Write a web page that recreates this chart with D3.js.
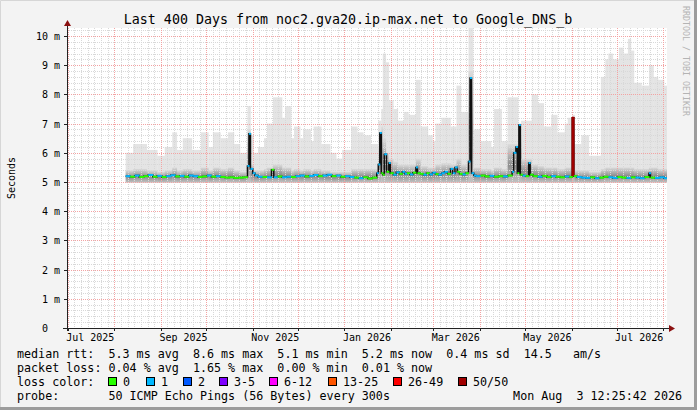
<!DOCTYPE html>
<html><head><meta charset="utf-8">
<script src="https://cdn.jsdelivr.net/npm/d3@7/dist/d3.min.js"></script>
<style>
body{margin:0;background:#f3f3f3}
svg{display:block}
text{font-family:"DejaVu Sans Mono",monospace;fill:#000;white-space:pre}
</style></head><body>
<svg id="chart" width="697" height="410"></svg>
<script>
// axis labels
const yTicks = [0,1,2,3,4,5,6,7,8,9,10];
const xTickLabels = ["Jul 2025","Sep 2025","Nov 2025","Jan 2026","Mar 2026","May 2026","Jul 2026"];

// smoke: start day (days since 30 Jun 2025 12:00), top of the smoke and top of the dark part (ms)
const smokeDay  = [39,44,53,60,65,70,73,77,83,89,94,97,102,107,111,115,120,122,124,127,131,133,137,143,145,149,151,155,157,162,164,169,175,179,183,189,193,197,202,207,209,210,212,214,217,220,224,227,232,235,240,243,245,249,255,259,262,267,270,275,282,284,289,293,300,302,309,313,317,322,326,331,333,336,337.5,342,347,355,358,360,363,367,370,373,375,377,382,387,390,393,397];
const smokeMax  = [6.0,6.3,6.1,5.9,6.2,6.7,6.1,6.5,6.1,6.7,6.2,6.7,6.5,6.7,6.3,6.0,7.6,6.6,6.0,6.2,6.5,7.0,7.9,7.2,7.6,6.5,6.9,6.5,6.8,6.4,6.9,6.3,6.0,5.8,6.1,6.9,6.7,6.6,6.3,7.1,7.5,9.4,9.1,7.8,7.5,7.1,7.4,7.3,8.5,6.9,6.6,6.4,7.0,7.2,6.9,8.3,7.4,10.3,6.8,6.4,6.2,7.5,6.4,7.9,7.0,7.1,8.0,7.7,6.9,7.3,6.7,7.0,7.2,7.3,6.3,6.6,5.9,8.6,9.2,9.4,9.2,9.6,9.4,9.9,9.5,8.4,8.3,9.0,8.6,8.5,8.3];
const smokeDark = [5.4,5.45,5.4,5.35,5.4,5.5,5.4,5.45,5.4,5.5,5.4,5.5,5.45,5.5,5.4,5.35,6.8,5.6,5.4,5.4,5.45,5.5,5.6,5.5,5.5,5.4,5.45,5.4,5.45,5.4,5.45,5.4,5.35,5.35,5.35,5.45,5.45,5.45,5.45,6.2,6.9,6.5,6.0,5.8,5.7,5.6,5.6,5.6,5.8,5.55,5.5,5.5,5.6,5.65,5.6,5.8,5.6,8.8,5.5,5.45,5.4,5.5,5.45,6.3,6.6,5.8,5.6,5.55,5.5,5.5,5.45,5.5,5.5,7.0,5.4,5.4,5.35,5.45,5.5,5.5,5.5,5.5,5.5,5.5,5.5,5.45,5.45,5.5,5.5,5.45,5.45];
const smokeLow = 4.98;
const dataEnd = 399;

// median rtt steps and loss bucket
const medDay  = [39,42,45,48,51,54,57,60,63,66,69,72,75,78,81,84,87,90,93,96,99,102,105,108,111,114,117,120,121,122,123.5,125,127,130,133,136,137.5,140,143,146,149,152,155,158,161,164,167,170,173,176,179,182,185,188,191,194,197,200,203,206,207,208,209,210,211,212.5,214,215,217,219,221,223,224.5,226,228,230,232,233,235,237,239,241,243,245,247,249,251,253,255,256.5,258,259.5,261,263,265,267,268,269,270.5,272,275,278,281,284,287,290,293,296,297,298.5,299.5,300.5,301.5,303,305,307,308,310,313,316,319,322,325,328,331,334,336,337,339,342,345,348,351,354,357,360,363,366,369,372,375,378,381,384,387,388,391,394,397];
const medVal  = [5.20,5.18,5.22,5.17,5.20,5.24,5.18,5.21,5.17,5.20,5.23,5.19,5.21,5.18,5.22,5.20,5.17,5.19,5.22,5.18,5.20,5.17,5.15,5.16,5.14,5.15,5.16,5.55,6.65,5.45,5.30,5.22,5.18,5.17,5.16,5.42,5.16,5.19,5.16,5.18,5.17,5.20,5.22,5.19,5.21,5.24,5.20,5.22,5.25,5.20,5.22,5.18,5.20,5.17,5.15,5.13,5.16,5.12,5.15,5.30,5.60,6.68,5.30,5.25,5.95,5.35,5.65,5.30,5.25,5.33,5.28,5.35,5.28,5.30,5.26,5.32,5.50,5.30,5.28,5.25,5.30,5.26,5.32,5.27,5.25,5.30,5.35,5.28,5.45,5.30,5.50,5.35,5.28,5.26,5.30,5.70,8.56,5.30,5.22,5.20,5.22,5.19,5.21,5.18,5.20,5.19,5.22,5.35,6.00,6.20,5.30,6.95,5.25,5.22,5.20,5.65,5.25,5.20,5.18,5.21,5.17,5.20,5.18,5.16,5.19,5.17,7.20,5.20,5.17,5.15,5.14,5.16,5.13,5.15,5.18,5.16,5.14,5.17,5.15,5.14,5.16,5.15,5.13,5.17,5.30,5.15,5.14,5.16,5.13];
const medLoss = [1,0,1,0,0,1,0,1,0,1,1,0,1,0,1,1,0,0,1,0,1,0,0,0,0,0,0,1,1,1,1,1,1,0,1,0,1,0,1,1,0,1,1,0,1,1,0,1,1,0,1,0,1,1,0,1,0,0,0,1,1,1,0,0,1,0,1,0,1,1,0,1,1,0,1,0,1,0,0,1,0,1,1,0,1,1,1,0,1,1,1,0,0,1,0,1,1,1,1,1,0,0,1,0,0,1,0,1,1,1,0,1,0,1,0,1,0,0,1,0,0,1,0,0,1,0,7,0,1,1,1,0,1,0,0,1,1,0,0,1,0,1,1,0,1,0,1,1,1];

// loss legend
const lossLabels = ["0","1","2","3-5","6-12","13-25","26-49","50/50"];
const lossColors = ["#26ff00","#00b8ff","#0059ff","#7e00ff","#ff00ff","#ff5500","#ff0000","#a10000"];

const legendRtt  = "median rtt:  5.3 ms avg  8.6 ms max  5.1 ms min  5.2 ms now  0.4 ms sd  14.5   am/s";
const legendLoss = "packet loss: 0.04 % avg  1.65 % max  0.00 % min  0.01 % now";
const legendProbe = "probe:       50 ICMP Echo Pings (56 Bytes) every 300s";
const stamp = "Mon Aug  3 12:25:42 2026";
const title = "Last 400 Days from noc2.gva20.ip-max.net to Google_DNS_b";

const W = 697, H = 410;
const pL = 67, pR = 667, pT = 28, pB = 328;

const svg = d3.select("#chart");

const t0 = new Date(2025, 5, 30, 12, 0, 0);
const t1 = new Date(2026, 7, 3, 12, 0, 0);
const dayToDate = d => new Date(t0.getTime() + d * 864e5);

const x = d3.scaleTime().domain([t0, t1]).range([pL, pR]);
const y = d3.scaleLinear().domain([0, 10.274]).range([pB, pT]);

// frame
svg.append("rect").attr("width", W).attr("height", H).attr("fill", "#f3f3f3");
svg.append("path").attr("d", `M0.5,${H} V0.5 H${W}`).attr("stroke", "#d6d6d6").attr("fill", "none");
svg.append("path").attr("d", `M0,${H-1.5} H${W-1.5} V0`).attr("stroke", "#9c9c9c").attr("stroke-width", 3).attr("fill", "none");
svg.append("rect").attr("x", pL).attr("y", pT).attr("width", pR - pL).attr("height", pB - pT).attr("fill", "#fff");

const defs = svg.append("defs");
defs.append("clipPath").attr("id", "plot").append("rect")
  .attr("x", pL).attr("y", pT).attr("width", pR - pL).attr("height", pB - pT);
const grad = defs.append("linearGradient").attr("id", "dark")
  .attr("x1", 0).attr("y1", 0).attr("x2", 0).attr("y2", 1);
grad.append("stop").attr("offset", 0).attr("stop-color", "#dcdcdc");
grad.append("stop").attr("offset", 0.55).attr("stop-color", "#8e8e8e");
grad.append("stop").attr("offset", 1).attr("stop-color", "#c2c2c2");

const plot = svg.append("g").attr("clip-path", "url(#plot)");

// smoke
const smoke = smokeDay.map((d, i) => ({
  x0: x(dayToDate(d)),
  x1: x(dayToDate(i < smokeDay.length - 1 ? smokeDay[i + 1] : dataEnd)),
  max: smokeMax[i], dark: smokeDark[i]
}));
plot.append("g").selectAll("rect").data(smoke).enter().append("rect")
  .attr("x", d => d.x0).attr("width", d => d.x1 - d.x0 + 0.3)
  .attr("y", d => y(d.max)).attr("height", d => y(smokeLow) - y(d.max))
  .attr("fill", "#e4e4e4");
plot.append("g").selectAll("rect").data(smoke).enter().append("rect")
  .attr("x", d => d.x0).attr("width", d => d.x1 - d.x0 + 0.3)
  .attr("y", d => y(d.dark)).attr("height", d => y(smokeLow) - y(d.dark))
  .attr("fill", "url(#dark)");

// grid
const grid = svg.append("g").attr("shape-rendering", "crispEdges").attr("stroke-dasharray", "1,1");
const minorY = d3.range(1, 52).map(i => i / 5).filter(v => Math.abs(v - Math.round(v)) > 0.01);
grid.selectAll(".hy").data(minorY).enter().append("line")
  .attr("x1", pL).attr("x2", pR)
  .attr("y1", d => Math.round(y(d)) + 0.5).attr("y2", d => Math.round(y(d)) + 0.5)
  .attr("stroke", "#d8d8d8");
const months = d3.timeMonth.range(d3.timeMonth.floor(t0), d3.timeMonth.offset(t1, 1));
const minorX = [];
months.forEach(m => {
  const n = d3.timeMonth.offset(m, 1);
  for (let k = 1; k < 7; k++) minorX.push(new Date(m.getTime() + (n - m) * k / 7));
});
grid.selectAll(".vx").data(minorX.filter(d => d > t0 && d < t1)).enter().append("line")
  .attr("y1", pT).attr("y2", pB)
  .attr("x1", d => Math.round(x(d)) + 0.5).attr("x2", d => Math.round(x(d)) + 0.5)
  .attr("stroke", "#d8d8d8");
grid.selectAll(".my").data(yTicks.slice(1)).enter().append("line")
  .attr("x1", pL).attr("x2", pR)
  .attr("y1", d => Math.round(y(d)) + 0.5).attr("y2", d => Math.round(y(d)) + 0.5)
  .attr("stroke", "#f3a3a3");
const majorX = months.filter(d => d >= t0 && d <= t1);
grid.selectAll(".mx").data(majorX).enter().append("line")
  .attr("y1", pT).attr("y2", pB)
  .attr("x1", d => Math.round(x(d)) + 0.5).attr("x2", d => Math.round(x(d)) + 0.5)
  .attr("stroke", "#f3a3a3");

// median line, above the grid
const medG = svg.append("g").attr("clip-path", "url(#plot)");
const medPts = medDay.map((d, i) => [x(dayToDate(d)), y(medVal[i])]);
medPts.push([x(dayToDate(dataEnd)), y(medVal[medVal.length - 1])]);
medG.append("path")
  .attr("d", d3.line().curve(d3.curveStepAfter)(medPts))
  .attr("fill", "none").attr("stroke", "#111").attr("stroke-width", 1.5);
// heavy-loss steps keep their colour down the jump too
const heavy = medDay.map((d, i) => i).filter(i => medLoss[i] >= 6 && i > 0);
medG.append("g").selectAll("path").data(heavy).enter().append("path")
  .attr("d", i => `M${medPts[i][0]},${medPts[i - 1][1]} V${medPts[i][1]} H${medPts[i + 1][0]} V${medPts[i + 1][1]}`)
  .attr("fill", "none").attr("stroke", i => lossColors[medLoss[i]]).attr("stroke-width", 1.5);
medG.append("g").selectAll("line").data(medDay).enter().append("line")
  .attr("x1", (d, i) => medPts[i][0]).attr("x2", (d, i) => medPts[i + 1][0] + 0.5)
  .attr("y1", (d, i) => medPts[i][1]).attr("y2", (d, i) => medPts[i][1])
  .attr("stroke", (d, i) => lossColors[medLoss[i]]).attr("stroke-width", 2);

// axes
const ax = svg.append("g").attr("shape-rendering", "crispEdges");
ax.append("line").attr("x1", pL - 4).attr("x2", pR + 3).attr("y1", pB + 0.5).attr("y2", pB + 0.5).attr("stroke", "#222");
ax.append("line").attr("x1", pL + 0.5).attr("x2", pL + 0.5).attr("y1", pB + 3).attr("y2", pT - 3).attr("stroke", "#222");
ax.selectAll(".yt").data(yTicks).enter().append("line")
  .attr("x1", pL - 3).attr("x2", pL)
  .attr("y1", d => Math.round(y(d)) + 0.5).attr("y2", d => Math.round(y(d)) + 0.5).attr("stroke", "#222");
ax.selectAll(".xt").data(majorX).enter().append("line")
  .attr("y1", pB).attr("y2", pB + 3)
  .attr("x1", d => Math.round(x(d)) + 0.5).attr("x2", d => Math.round(x(d)) + 0.5).attr("stroke", "#222");
svg.append("path").attr("d", `M${pL - 3},${pT - 2} L${pL + 0.5},${pT - 8} L${pL + 4},${pT - 2} Z`).attr("fill", "#8b1010");
svg.append("path").attr("d", `M${pR + 2},${pB - 3} L${pR + 8},${pB + 0.5} L${pR + 2},${pB + 4} Z`).attr("fill", "#8b1010");

// tick labels
svg.append("g").selectAll("text").data(yTicks).enter().append("text")
  .attr("x", d => d === 0 ? 48 : 60).attr("y", d => y(d) + 4)
  .attr("text-anchor", "end").attr("font-size", "10px")
  .text(d => d === 0 ? "0" : d + " m");
const labelMonths = d3.timeMonth.every(2).range(new Date(2025, 6, 1), t1);
svg.append("g").selectAll("text").data(labelMonths).enter().append("text")
  .attr("x", d => x(d3.timeDay.offset(d, 15)))
  .attr("y", pB + 13).attr("text-anchor", "middle").attr("font-size", "10px")
  .text((d, i) => xTickLabels[i]);

// titles
svg.append("text").attr("x", 348).attr("y", 24).attr("text-anchor", "middle")
  .attr("font-size", "13.3px").text(title);
svg.append("text").attr("transform", `translate(15,${(pT + pB) / 2}) rotate(-90)`)
  .attr("text-anchor", "middle").attr("font-size", "10px").text("Seconds");
svg.append("text").attr("transform", "translate(683,6) rotate(90)")
  .attr("font-size", "8.3px").style("fill", "#b4b4b4").text("RRDTOOL / TOBI OETIKER");

// legend
const lg = svg.append("g").attr("font-size", "11.7px");
lg.append("text").attr("x", 17).attr("y", 358).text(legendRtt);
lg.append("text").attr("x", 17).attr("y", 372).text(legendLoss);
lg.append("text").attr("x", 17).attr("y", 386).text("loss color:");
lg.append("text").attr("x", 17).attr("y", 400).text(legendProbe);
lg.append("text").attr("x", 682).attr("y", 400).attr("text-anchor", "end").text(stamp);
const boxX = [108, 146, 183, 219, 269, 328, 393, 458];
const items = lg.selectAll(".li").data(lossLabels).enter().append("g");
items.append("rect").attr("x", (d, i) => boxX[i] + 0.5).attr("y", 377.5).attr("width", 8).attr("height", 8)
  .attr("fill", (d, i) => lossColors[i]).attr("stroke", "#000");
items.append("text").attr("x", (d, i) => boxX[i] + 15).attr("y", 386).text(d => d);
</script>
</body></html>
